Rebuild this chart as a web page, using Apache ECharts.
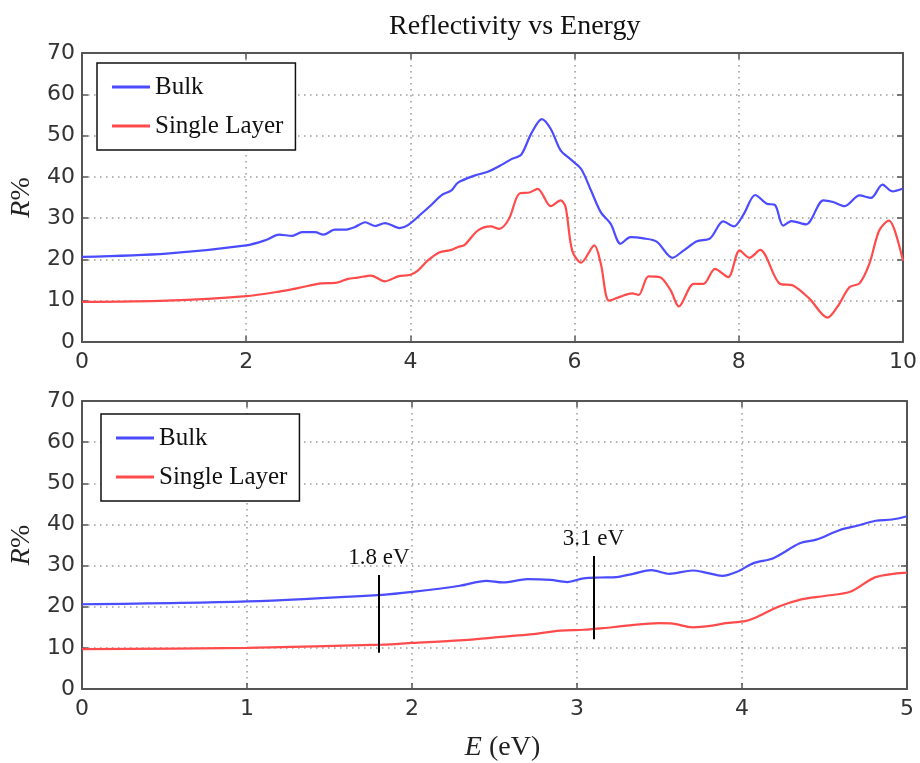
<!DOCTYPE html>
<html>
<head>
<meta charset="utf-8">
<title>Reflectivity vs Energy</title>
<script src="https://cdn.jsdelivr.net/npm/echarts@6/dist/echarts.min.js"></script>
<style>
  html, body { margin: 0; padding: 0; background: #fff; }
  #chart { width: 920px; height: 763px; }
</style>
</head>
<body>
<div id="chart"></div>
<script>
// Reflectivity R% against photon energy E (eV), 0–10 eV range
const bulkWideE = [0, 1.03, 2.0, 2.24, 2.4, 2.56, 2.68, 2.84, 2.94, 3.08, 3.2, 3.32, 3.45, 3.57, 3.69, 3.87, 3.97, 4.13, 4.26, 4.38, 4.5, 4.58, 4.78, 4.95, 5.11, 5.23, 5.35, 5.47, 5.6, 5.71, 5.83, 5.96, 6.08, 6.2, 6.32, 6.44, 6.56, 6.68, 6.84, 7.0, 7.19, 7.33, 7.49, 7.65, 7.81, 7.94, 8.06, 8.2, 8.34, 8.44, 8.54, 8.64, 8.82, 9.03, 9.15, 9.29, 9.47, 9.61, 9.75, 9.87, 10];
const bulkWideR = [20.6, 21.4, 23.4, 24.7, 26.0, 25.7, 26.6, 26.6, 26.0, 27.2, 27.2, 27.8, 29.0, 28.1, 28.8, 27.6, 28.3, 31.0, 33.3, 35.6, 36.7, 38.6, 40.3, 41.3, 42.9, 44.3, 45.4, 50.4, 54.0, 51.6, 46.4, 44.1, 41.9, 36.7, 31.4, 28.6, 23.8, 25.4, 25.1, 24.3, 20.4, 22.2, 24.4, 25.1, 29.2, 28.0, 31.0, 35.6, 33.5, 33.2, 28.2, 29.3, 28.5, 34.3, 33.9, 32.9, 35.5, 34.9, 38.1, 36.5, 37.2];

const singleWideE = [0, 1.03, 2.0, 2.4, 2.64, 2.92, 3.08, 3.24, 3.36, 3.52, 3.69, 3.85, 4.0, 4.09, 4.21, 4.35, 4.5, 4.58, 4.66, 4.82, 4.98, 5.08, 5.2, 5.33, 5.45, 5.55, 5.71, 5.83, 5.89, 5.97, 6.08, 6.24, 6.32, 6.42, 6.56, 6.7, 6.78, 6.9, 7.04, 7.17, 7.27, 7.45, 7.57, 7.71, 7.87, 8.01, 8.13, 8.26, 8.5, 8.66, 8.86, 9.08, 9.2, 9.35, 9.47, 9.59, 9.71, 9.83, 9.9, 10];
const singleWideR = [9.7, 10.0, 11.1, 12.2, 13.1, 14.2, 14.3, 15.3, 15.6, 16.1, 14.7, 15.9, 16.3, 17.3, 19.7, 21.7, 22.3, 23.0, 23.5, 27.0, 28.0, 27.4, 29.8, 36.0, 36.2, 37.1, 32.9, 34.3, 32.7, 22.2, 19.2, 23.4, 18.9, 10.0, 11.0, 11.8, 11.4, 15.9, 15.7, 12.5, 8.6, 14.1, 14.1, 17.7, 15.7, 22.2, 20.4, 22.3, 14.1, 13.7, 10.5, 5.9, 8.5, 13.3, 14.2, 18.9, 27.0, 29.4, 27.0, 19.7];

// Close-up of the 0–5 eV range
const bulkZoomE = [0, 1.0, 1.82, 2.0, 2.29, 2.45, 2.55, 2.7, 2.84, 2.94, 3.04, 3.14, 3.24, 3.34, 3.45, 3.56, 3.7, 3.78, 3.88, 3.97, 4.07, 4.19, 4.35, 4.45, 4.59, 4.71, 4.81, 4.91, 5.0];
const bulkZoomR = [20.6, 21.3, 22.9, 23.6, 25.1, 26.3, 25.9, 26.7, 26.5, 26.0, 26.9, 27.1, 27.2, 28.0, 28.9, 28.0, 28.8, 28.3, 27.5, 28.5, 30.6, 31.8, 35.4, 36.3, 38.6, 39.8, 40.9, 41.2, 42.0];

const singleZoomE = [0, 1.0, 1.82, 2.0, 2.29, 2.49, 2.7, 2.9, 3.04, 3.16, 3.3, 3.5, 3.58, 3.7, 3.82, 3.9, 4.02, 4.08, 4.22, 4.36, 4.5, 4.66, 4.81, 5.0];
const singleZoomR = [9.7, 10.0, 10.8, 11.2, 11.8, 12.5, 13.2, 14.2, 14.4, 14.8, 15.4, 16.0, 15.9, 15.0, 15.4, 16.0, 16.5, 17.3, 20.0, 21.8, 22.6, 23.7, 27.2, 28.3];

// Marked band-edge energies in the close-up panel
const markerEnergies = [1.8, 3.1];
const markerSpans = [[8.8, 27.7], [12.1, 32.3]];

const wideTicks = [0, 2, 4, 6, 8, 10];
const zoomTicks = [0, 1, 2, 3, 4, 5];
const rTicks = [0, 10, 20, 30, 40, 50, 60, 70];

const seriesNames = ['Bulk', 'Single Layer'];
const BLUE = '#4b4bff';
const RED = '#ff4b4b';

const zip = (xs, ys) => xs.map((x, i) => [x, ys[i]]);

const tickFont = { fontFamily: 'DejaVu Sans', fontSize: 22, color: '#333' };
const frameLine = { show: true, onZero: false, lineStyle: { color: '#555', width: 2 } };
const innerTick = { show: true, inside: true, length: 6, lineStyle: { color: '#555', width: 1.5 } };
const dotted = { show: true, lineStyle: { color: '#9a9a9a', width: 1.5, type: [1.5, 4.5] } };

function xAxesFor(gridIndex, ticks) {
  const min = ticks[0], max = ticks[ticks.length - 1], interval = ticks[1] - ticks[0];
  const bottom = {
    type: 'value', gridIndex, position: 'bottom', min, max, interval,
    axisLine: frameLine, axisTick: innerTick, splitLine: dotted,
    axisLabel: Object.assign({ margin: 9 }, tickFont)
  };
  const top = {
    type: 'value', gridIndex, position: 'top', min, max, interval,
    axisLine: frameLine, axisTick: innerTick, splitLine: { show: false },
    axisLabel: { show: false }
  };
  return [bottom, top];
}

function yAxesFor(gridIndex) {
  const min = rTicks[0], max = rTicks[rTicks.length - 1], interval = rTicks[1] - rTicks[0];
  const left = {
    type: 'value', gridIndex, position: 'left', min, max, interval,
    name: '{i|R}%', nameLocation: 'middle', nameGap: 44, nameRotate: 90,
    nameTextStyle: {
      fontFamily: 'Liberation Serif', fontSize: 28, color: '#222',
      rich: { i: { fontFamily: 'Liberation Serif', fontStyle: 'italic', fontSize: 28, color: '#222' } }
    },
    axisLine: frameLine, axisTick: innerTick, splitLine: dotted,
    axisLabel: Object.assign({ margin: 7 }, tickFont)
  };
  const right = {
    type: 'value', gridIndex, position: 'right', min, max, interval,
    axisLine: frameLine, axisTick: innerTick, splitLine: { show: false },
    axisLabel: { show: false }
  };
  return [left, right];
}

const xAxes = xAxesFor(0, wideTicks).concat(xAxesFor(1, zoomTicks));
// axis title under the close-up panel
Object.assign(xAxes[2], {
  name: '{i|E} (eV)', nameLocation: 'middle', nameGap: 45,
  nameTextStyle: {
    fontFamily: 'Liberation Serif', fontSize: 28, color: '#222', padding: [0, 0, 0, 16],
    rich: { i: { fontFamily: 'Liberation Serif', fontStyle: 'italic', fontSize: 28, color: '#222' } }
  }
});
const yAxes = yAxesFor(0).concat(yAxesFor(1));

function curve(name, color, data, xIdx, yIdx) {
  return {
    name, type: 'line', data, xAxisIndex: xIdx, yAxisIndex: yIdx,
    showSymbol: false, smooth: 0.3, z: 3,
    itemStyle: { color },
    lineStyle: { color, width: 2.2 }
  };
}

const markerLine = {
  silent: true, symbol: 'none',
  lineStyle: { color: '#000', width: 2, type: 'solid' },
  label: {
    show: true, position: 'end', distance: 6,
    fontFamily: 'Liberation Serif', fontSize: 23, color: '#111',
    formatter: p => p.data.labelText
  },
  data: markerEnergies.map((e, i) => [
    { coord: [e, markerSpans[i][0]], labelText: e.toFixed(1) + ' eV' },
    { coord: [e, markerSpans[i][1]] }
  ])
};

const series = [
  curve(seriesNames[0], BLUE, zip(bulkWideE, bulkWideR), 0, 0),
  curve(seriesNames[1], RED, zip(singleWideE, singleWideR), 0, 0),
  curve(seriesNames[0], BLUE, zip(bulkZoomE, bulkZoomR), 2, 2),
  Object.assign(curve(seriesNames[1], RED, zip(singleZoomE, singleZoomR), 2, 2), { markLine: markerLine })
];

function legendAt(left, top) {
  return {
    left, top, orient: 'vertical',
    data: seriesNames, selectedMode: false,
    icon: 'rect', itemWidth: 38, itemHeight: 3, itemGap: 13,
    padding: [11, 12, 11, 15],
    backgroundColor: '#fff', borderColor: '#111', borderWidth: 1.5, borderRadius: 0,
    textStyle: { fontFamily: 'Liberation Serif', fontSize: 25, color: '#111', lineHeight: 26 }
  };
}

const option = {
  animation: false,
  backgroundColor: '#fff',
  title: {
    text: 'Reflectivity vs Energy',
    left: 384, top: 8,
    textStyle: { fontFamily: 'Liberation Serif', fontSize: 28, fontWeight: 'normal', color: '#111' }
  },
  grid: [
    { left: 82, right: 13, top: 53, height: 289 },
    { left: 82, right: 13, top: 401, height: 289 }
  ],
  legend: [legendAt(97, 63), legendAt(101, 414)],
  xAxis: xAxes,
  yAxis: yAxes,
  series
};

const chart = echarts.init(document.getElementById('chart'), null, { renderer: 'canvas' });
chart.setOption(option);
</script>
</body>
</html>
